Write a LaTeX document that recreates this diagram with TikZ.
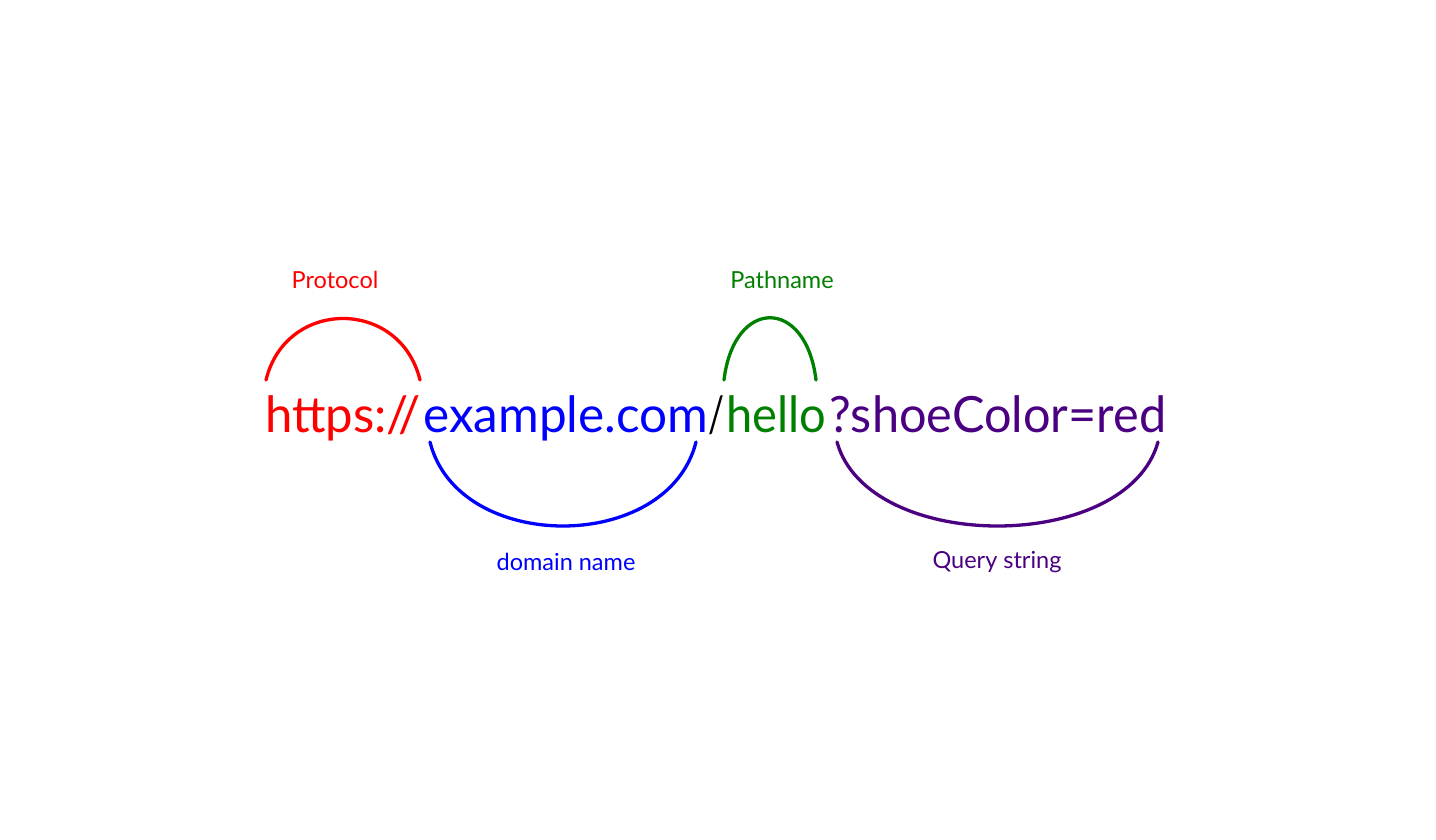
\documentclass[tikz,border=0pt]{standalone}
\usepackage{fontspec}
\setmainfont{Lato}
\usepackage{graphicx}
\definecolor{cred}{HTML}{FF0000}
\definecolor{cblue}{HTML}{0000FF}
\definecolor{cgreen}{HTML}{008000}
\definecolor{cpurple}{HTML}{4B0082}
\newcommand{\fitw}[2]{\resizebox{#1}{\height}{#2}}
\tikzset{
  seg/.style={anchor=base west, inner sep=0pt, font=\fontsize{50}{50}\selectfont},
  lab/.style={inner sep=0pt, font=\fontsize{23.5}{23.5}\selectfont},
  arc/.style={line width=3.3pt, line cap=round}
}
\begin{document}
\begin{tikzpicture}[x=1pt,y=-1pt]
\useasboundingbox (0,0) rectangle (1436,840);
\fill[white] (0,0) rectangle (1436,840);
% URL segments
\node[seg, text=cred] (proto) at (265,432) {\fitw{155pt}{https://}};
\node[seg, text=cblue] (dom) at (423,432) {\fitw{285pt}{example.com}};
\node[seg, text=black] (slash) at (708,432) {\fitw{16pt}{/}};
\node[seg, text=cgreen] (path) at (726,432) {\fitw{100pt}{hello}};
\node[seg, text=cpurple] (query) at (829,432) {\fitw{337pt}{?shoeColor=red}};
% labels
\node[lab, text=cred] (lproto) at (335,280) {Protocol};
\node[lab, text=cgreen] (lpath) at (782,280) {Pathname};
\node[lab, text=cblue] (ldom) at (566,562) {domain name};
\node[lab, text=cpurple] (lquery) at (997,562) {Query string};
% arcs
\coordinate (p1) at (266,380);
\coordinate (p2) at (420,380);
\draw[arc, cred] (p1) .. controls (286,298) and (400,298) .. (p2);
\coordinate (g1) at (724,380);
\coordinate (g2) at (816,380);
\draw[arc, cgreen] (g1) .. controls (734,297) and (806,297) .. (g2);
\coordinate (d1) at (430,442);
\coordinate (d2) at (696,442);
\draw[arc, cblue] (d1) .. controls (458,554) and (668,554) .. (d2);
\coordinate (q1) at (837,442);
\coordinate (q2) at (1158,442);
\draw[arc, cpurple] (q1) .. controls (868,554) and (1127,554) .. (q2);
\end{tikzpicture}
\end{document}
